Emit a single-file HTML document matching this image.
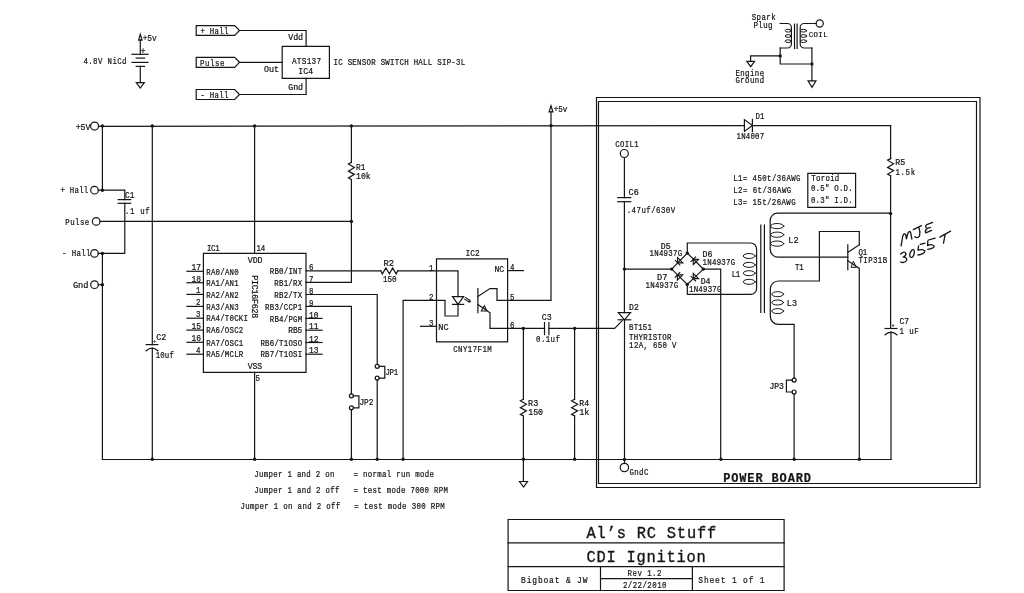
<!DOCTYPE html>
<html><head><meta charset="utf-8"><style>
html,body{margin:0;padding:0;background:#fff;}
svg{display:block;will-change:transform;}
text{font-family:"Liberation Mono",monospace;fill:#151515;stroke:#151515;stroke-width:0.22px;}
</style></head><body>
<svg width="1024" height="593" viewBox="0 0 1024 593">
<rect width="1024" height="593" fill="#fff"/>
<g fill="none" stroke="#151515" stroke-linecap="square" stroke-linejoin="miter">
<path d="M140.3 40.2 L140.3 54.3" stroke-width="1.2"/>
<path d="M138.6 40.2 L142 40.2 L140.3 34.3Z" stroke-width="1.2"/>
<text transform="translate(143.3 40.67) scale(0.93 1)" x="-0.67" font-size="8.4" letter-spacing="0">+5v</text>
<text transform="translate(141.2 53.67) scale(1 1)" x="-0.67" font-size="8.4" letter-spacing="0">+</text>
<path d="M132 54.3 L148 54.3" stroke-width="1.2"/>
<path d="M136.2 58.1 L144.5 58.1" stroke-width="1.2"/>
<path d="M132 62.4 L148 62.4" stroke-width="1.2"/>
<path d="M136.2 66.4 L144.5 66.4" stroke-width="1.2"/>
<path d="M140.3 66.4 L140.3 82.7" stroke-width="1.2"/>
<path d="M136.3 82.7 L144.3 82.7 L140.3 88Z" stroke-width="1.2"/>
<text transform="translate(84 64.27) scale(0.88 1)" x="-0.67" font-size="8.4" letter-spacing="0.46">4.8V NiCd</text>
<path d="M196.2 25.6 L234.7 25.6 L239.5 30.5 L234.7 35.4 L196.2 35.4Z" stroke-width="1.2"/>
<text transform="translate(201 33.77) scale(0.88 1)" x="-0.67" font-size="8.4" letter-spacing="0.31">+ Hall</text>
<path d="M196.2 57.3 L234.7 57.3 L239.5 62.3 L234.7 67.3 L196.2 67.3Z" stroke-width="1.2"/>
<text transform="translate(200.5 65.57) scale(0.88 1)" x="-0.67" font-size="8.4" letter-spacing="0.65">Pulse</text>
<path d="M196.2 89.5 L234.7 89.5 L239.5 94.5 L234.7 99.5 L196.2 99.5Z" stroke-width="1.2"/>
<text transform="translate(201 97.77) scale(0.88 1)" x="-0.67" font-size="8.4" letter-spacing="0.31">- Hall</text>
<path d="M239.5 30.5 L306.1 30.5 L306.1 46.4" stroke-width="1.2"/>
<path d="M239.5 62.3 L282.2 62.3" stroke-width="1.2"/>
<path d="M239.5 94.5 L306.1 94.5 L306.1 78.3" stroke-width="1.2"/>
<path d="M282.2 46.4 L329.4 46.4 L329.4 78.3 L282.2 78.3Z" stroke-width="1.2"/>
<text transform="translate(288.8 39.87) scale(0.99 1)" x="-0.67" font-size="8.4" letter-spacing="0">Vdd</text>
<text transform="translate(264.7 72.07) scale(0.99 1)" x="-0.67" font-size="8.4" letter-spacing="0">Out</text>
<text transform="translate(288.8 89.67) scale(0.99 1)" x="-0.67" font-size="8.4" letter-spacing="0">Gnd</text>
<text transform="translate(292.5 63.9) scale(0.88 1)" x="-0.7" font-size="8.8" letter-spacing="0.32">ATS137</text>
<text transform="translate(299 73.7) scale(0.93 1)" x="-0.7" font-size="8.8" letter-spacing="0">IC4</text>
<text transform="translate(334.1 65.47) scale(0.88 1)" x="-0.67" font-size="8.4" letter-spacing="0.32">IC SENSOR SWITCH HALL SIP-3L</text>
<text transform="translate(752.3 19.77) scale(0.88 1)" x="-0.67" font-size="8.4" letter-spacing="0.48">Spark</text>
<text transform="translate(754 27.67) scale(0.88 1)" x="-0.67" font-size="8.4" letter-spacing="0.5">Plug</text>
<path d="M780.2 23.5 L787.4 23.5 A4 4 0 0 1 791.4 27.5 L791.4 44 A4 4 0 0 1 787.4 48 L780.2 48" stroke-width="1.2"/>
<ellipse cx="788.2" cy="30.7" rx="3" ry="1.4" stroke-width="1"/>
<ellipse cx="788.2" cy="36" rx="3" ry="1.4" stroke-width="1"/>
<ellipse cx="788.2" cy="41.2" rx="3" ry="1.4" stroke-width="1"/>
<path d="M794.5 24.2 L794.5 48.5" stroke-width="1.2"/>
<path d="M797.1 24.2 L797.1 48.5" stroke-width="1.2"/>
<path d="M816.1 23.5 L804.2 23.5 A4 4 0 0 0 800.2 27.5 L800.2 44 A4 4 0 0 0 804.2 48 L811.9 48" stroke-width="1.2"/>
<ellipse cx="803.6" cy="30.7" rx="3" ry="1.4" stroke-width="1"/>
<ellipse cx="803.6" cy="36" rx="3" ry="1.4" stroke-width="1"/>
<ellipse cx="803.6" cy="41.2" rx="3" ry="1.4" stroke-width="1"/>
<circle cx="819.7" cy="23.5" r="3.6" stroke-width="1.2"/>
<text transform="translate(809.3 37.14) scale(1 1)" x="-0.59" font-size="7.4" letter-spacing="0.37">COIL</text>
<path d="M780.2 48 L780.2 64 L811.9 64" stroke-width="1.2"/>
<path d="M811.9 48 L811.9 80.8" stroke-width="1.2"/>
<circle cx="780.2" cy="55.9" r="1.7" fill="#151515" stroke="none"/>
<circle cx="811.9" cy="64" r="1.7" fill="#151515" stroke="none"/>
<path d="M780.2 55.9 L750.6 55.9 L750.6 61.3" stroke-width="1.2"/>
<path d="M746.8 61.3 L754.6 61.3 L750.7 66.7Z" stroke-width="1.2"/>
<path d="M808 80.8 L816 80.8 L812 87.4Z" stroke-width="1.2"/>
<text transform="translate(736 75.87) scale(0.88 1)" x="-0.67" font-size="8.4" letter-spacing="0.47">Engine</text>
<text transform="translate(736 83.27) scale(0.88 1)" x="-0.67" font-size="8.4" letter-spacing="0.47">Ground</text>
<circle cx="94.6" cy="126.1" r="4" stroke-width="1.2"/>
<text transform="translate(76.3 129.67) scale(0.98 1)" x="-0.67" font-size="8.4" letter-spacing="0">+5V</text>
<path d="M98.6 126.3 L744.4 125.7" stroke-width="1.2"/>
<path d="M752.4 125.6 L890.6 125.6" stroke-width="1.2"/>
<circle cx="102.4" cy="125.9" r="1.7" fill="#151515" stroke="none"/>
<circle cx="152.3" cy="125.9" r="1.7" fill="#151515" stroke="none"/>
<circle cx="254.6" cy="125.9" r="1.7" fill="#151515" stroke="none"/>
<circle cx="351.3" cy="125.9" r="1.7" fill="#151515" stroke="none"/>
<circle cx="551" cy="125.6" r="1.7" fill="#151515" stroke="none"/>
<path d="M102.4 125.9 L102.4 190.2" stroke-width="1.2"/>
<circle cx="94.5" cy="190.2" r="3.8" stroke-width="1.2"/>
<text transform="translate(61.1 193.27) scale(0.88 1)" x="-0.67" font-size="8.4" letter-spacing="0.26">+ Hall</text>
<circle cx="102.4" cy="190.2" r="1.7" fill="#151515" stroke="none"/>
<path d="M98.3 190.2 L124.8 190.2 L124.8 199.6" stroke-width="1.2"/>
<path d="M118.2 199.6 L130.7 199.6" stroke-width="1.2"/>
<path d="M118.2 203.3 L130.7 203.3" stroke-width="1.2"/>
<path d="M124.8 203.3 L124.8 253.4 L98.3 253.4" stroke-width="1.2"/>
<text transform="translate(125.6 197.67) scale(0.93 1)" x="-0.67" font-size="8.4" letter-spacing="-0">C1</text>
<text transform="translate(125.6 213.67) scale(0.88 1)" x="-0.67" font-size="8.4" letter-spacing="0.71">.1 uf</text>
<circle cx="96.2" cy="221.4" r="3.8" stroke-width="1.2"/>
<text transform="translate(65.9 224.67) scale(0.88 1)" x="-0.67" font-size="8.4" letter-spacing="0.48">Pulse</text>
<path d="M100 221.4 L351.4 221.4" stroke-width="1.2"/>
<circle cx="351.4" cy="221.4" r="1.7" fill="#151515" stroke="none"/>
<circle cx="94.5" cy="253.4" r="3.8" stroke-width="1.2"/>
<text transform="translate(62.7 256.47) scale(0.88 1)" x="-0.67" font-size="8.4" letter-spacing="0.4">- Hall</text>
<circle cx="102.4" cy="253.4" r="1.7" fill="#151515" stroke="none"/>
<path d="M102.4 253.4 L102.4 459.3" stroke-width="1.2"/>
<circle cx="94.5" cy="284.7" r="3.8" stroke-width="1.2"/>
<text transform="translate(73.6 287.77) scale(1.03 1)" x="-0.67" font-size="8.4" letter-spacing="-0">Gnd</text>
<circle cx="102.4" cy="284.7" r="1.7" fill="#151515" stroke="none"/>
<path d="M98.3 284.7 L102.4 284.7" stroke-width="1.2"/>
<path d="M102.4 459.5 L891 459.5" stroke-width="1.2"/>
<path d="M152.3 125.9 L152.3 344.6" stroke-width="1.2"/>
<path d="M146.2 344.6 L157.8 344.6" stroke-width="1.2"/>
<path d="M146.2 350.8 Q152.2 345.6 157.8 350.8" stroke-width="1.2"/>
<path d="M152.3 348.2 L152.3 459.3" stroke-width="1.2"/>
<circle cx="152.3" cy="459.3" r="1.7" fill="#151515" stroke="none"/>
<text transform="translate(153.5 343.25) scale(0.88 1)" x="-0.4" font-size="5" letter-spacing="0">+</text>
<text transform="translate(157 340.27) scale(1 1)" x="-0.67" font-size="8.4" letter-spacing="-0">C2</text>
<text transform="translate(156.3 358.07) scale(0.88 1)" x="-0.67" font-size="8.4" letter-spacing="0.16">10uf</text>
<path d="M203.4 253.3 L306 253.3 L306 372.3 L203.4 372.3Z" stroke-width="1.2"/>
<path d="M254.6 125.9 L254.6 253.3" stroke-width="1.2"/>
<path d="M254.6 372.3 L254.6 459.3" stroke-width="1.2"/>
<circle cx="254.6" cy="459.3" r="1.7" fill="#151515" stroke="none"/>
<text transform="translate(207.6 250.67) scale(0.88 1)" x="-0.67" font-size="8.4" letter-spacing="-0.42">IC1</text>
<text transform="translate(257.1 250.67) scale(0.88 1)" x="-0.67" font-size="8.4" letter-spacing="-0.35">14</text>
<text transform="translate(248.3 262.77) scale(0.99 1)" x="-0.67" font-size="8.4" letter-spacing="0">VDD</text>
<text transform="translate(248.3 369.47) scale(0.96 1)" x="-0.67" font-size="8.4" letter-spacing="0">VSS</text>
<text transform="translate(256.1 381.27) scale(0.88 1)" x="-0.67" font-size="8.4" letter-spacing="0">5</text>
<path d="M187 271.3 L203.4 271.3" stroke-width="1.2"/>
<text transform="translate(192 270.37) scale(0.95 1)" x="-0.67" font-size="8.4" letter-spacing="-0">17</text>
<text transform="translate(206.8 274.57) scale(0.88 1)" x="-0.67" font-size="8.4" letter-spacing="0.27">RA0/AN0</text>
<path d="M187 282.7 L203.4 282.7" stroke-width="1.2"/>
<text transform="translate(192 281.77) scale(0.95 1)" x="-0.67" font-size="8.4" letter-spacing="-0">18</text>
<text transform="translate(206.8 285.97) scale(0.88 1)" x="-0.67" font-size="8.4" letter-spacing="0.27">RA1/AN1</text>
<path d="M187 294.4 L203.4 294.4" stroke-width="1.2"/>
<text transform="translate(196.7 293.47) scale(0.88 1)" x="-0.67" font-size="8.4" letter-spacing="0">1</text>
<text transform="translate(206.8 297.67) scale(0.88 1)" x="-0.67" font-size="8.4" letter-spacing="0.27">RA2/AN2</text>
<path d="M187 306.4 L203.4 306.4" stroke-width="1.2"/>
<text transform="translate(196.7 305.47) scale(0.88 1)" x="-0.67" font-size="8.4" letter-spacing="0">2</text>
<text transform="translate(206.8 309.67) scale(0.88 1)" x="-0.67" font-size="8.4" letter-spacing="0.27">RA3/AN3</text>
<path d="M187 318.2 L203.4 318.2" stroke-width="1.2"/>
<text transform="translate(196.7 317.27) scale(0.88 1)" x="-0.67" font-size="8.4" letter-spacing="0">3</text>
<text transform="translate(206.8 321.47) scale(0.88 1)" x="-0.67" font-size="8.4" letter-spacing="0.26">RA4/T0CKI</text>
<path d="M187 330.1 L203.4 330.1" stroke-width="1.2"/>
<text transform="translate(192 329.17) scale(0.95 1)" x="-0.67" font-size="8.4" letter-spacing="-0">15</text>
<text transform="translate(206.8 333.37) scale(0.88 1)" x="-0.67" font-size="8.4" letter-spacing="0.26">RA6/OSC2</text>
<path d="M187 342.3 L203.4 342.3" stroke-width="1.2"/>
<text transform="translate(192 341.37) scale(0.95 1)" x="-0.67" font-size="8.4" letter-spacing="-0">16</text>
<text transform="translate(206.8 345.57) scale(0.88 1)" x="-0.67" font-size="8.4" letter-spacing="0.26">RA7/OSC1</text>
<path d="M187 354.2 L203.4 354.2" stroke-width="1.2"/>
<text transform="translate(196.7 353.27) scale(0.88 1)" x="-0.67" font-size="8.4" letter-spacing="0">4</text>
<text transform="translate(206.8 357.47) scale(0.88 1)" x="-0.67" font-size="8.4" letter-spacing="0.26">RA5/MCLR</text>
<text transform="translate(309.6 270.17) scale(0.88 1)" x="-0.67" font-size="8.4" letter-spacing="0">6</text>
<text transform="translate(270.29 274.17) scale(0.88 1)" x="-0.67" font-size="8.4" letter-spacing="0.27">RB0/INT</text>
<text transform="translate(309.6 281.67) scale(0.88 1)" x="-0.67" font-size="8.4" letter-spacing="0">7</text>
<text transform="translate(274.92 285.67) scale(0.88 1)" x="-0.67" font-size="8.4" letter-spacing="0.28">RB1/RX</text>
<text transform="translate(309.6 293.77) scale(0.88 1)" x="-0.67" font-size="8.4" letter-spacing="0">8</text>
<text transform="translate(274.92 297.77) scale(0.88 1)" x="-0.67" font-size="8.4" letter-spacing="0.28">RB2/TX</text>
<text transform="translate(309.6 305.67) scale(0.88 1)" x="-0.67" font-size="8.4" letter-spacing="0">9</text>
<text transform="translate(265.66 309.67) scale(0.88 1)" x="-0.67" font-size="8.4" letter-spacing="0.26">RB3/CCP1</text>
<path d="M306 318.4 L322 318.4" stroke-width="1.2"/>
<text transform="translate(309.6 317.67) scale(0.95 1)" x="-0.67" font-size="8.4" letter-spacing="-0">10</text>
<text transform="translate(270.29 321.67) scale(0.88 1)" x="-0.67" font-size="8.4" letter-spacing="0.27">RB4/PGM</text>
<path d="M306 330.2 L322 330.2" stroke-width="1.2"/>
<text transform="translate(309.6 329.47) scale(0.95 1)" x="-0.67" font-size="8.4" letter-spacing="-0">11</text>
<text transform="translate(288.81 333.47) scale(0.93 1)" x="-0.67" font-size="8.4" letter-spacing="0">RB5</text>
<path d="M306 342.5 L322 342.5" stroke-width="1.2"/>
<text transform="translate(309.6 341.77) scale(0.95 1)" x="-0.67" font-size="8.4" letter-spacing="-0">12</text>
<text transform="translate(261.03 345.77) scale(0.88 1)" x="-0.67" font-size="8.4" letter-spacing="0.26">RB6/T1OSO</text>
<path d="M306 354.2 L322 354.2" stroke-width="1.2"/>
<text transform="translate(309.6 353.47) scale(0.95 1)" x="-0.67" font-size="8.4" letter-spacing="-0">13</text>
<text transform="translate(261.03 357.47) scale(0.88 1)" x="-0.67" font-size="8.4" letter-spacing="0.26">RB7/T1OSI</text>
<text x="0" y="0" font-size="8.3" letter-spacing="-0.22" transform="translate(251.9 275.3) rotate(90)">PIC16F628</text>
<path d="M351.4 125.9 L351.4 162.4" stroke-width="1.2"/>
<path d="M351.4 162.4 L348.4 163.94 L354.4 167.53 L348.4 171.12 L354.4 174.37 L348.4 177.96 L351.4 179.5" stroke-width="1.2"/>
<path d="M351.4 179.5 L351.4 282.4 L306 282.4" stroke-width="1.2"/>
<text transform="translate(356.7 169.57) scale(0.92 1)" x="-0.67" font-size="8.4" letter-spacing="-0">R1</text>
<text transform="translate(356.7 179.27) scale(0.96 1)" x="-0.67" font-size="8.4" letter-spacing="0">10k</text>
<path d="M306 270.9 L380.8 270.9" stroke-width="1.2"/>
<path d="M380.8 270.9 L382.32 273.9 L385.87 267.9 L389.42 273.9 L392.63 267.9 L396.18 273.9 L397.7 270.9" stroke-width="1.2"/>
<path d="M397.7 270.9 L458 270.9 L458 296.6" stroke-width="1.2"/>
<text transform="translate(384.2 266.17) scale(1.05 1)" x="-0.67" font-size="8.4" letter-spacing="-0">R2</text>
<text transform="translate(383.5 282.07) scale(0.91 1)" x="-0.67" font-size="8.4" letter-spacing="0">150</text>
<path d="M306 294.5 L377.2 294.5 L377.2 364.3" stroke-width="1.2"/>
<circle cx="377.2" cy="366.3" r="2" stroke-width="1.2"/>
<circle cx="377.2" cy="378.1" r="2" stroke-width="1.2"/>
<path d="M377.2 380.1 L377.2 459.3" stroke-width="1.2"/>
<circle cx="377.2" cy="459.3" r="1.7" fill="#151515" stroke="none"/>
<path d="M379.2 366.3 L384.8 366.3 L384.8 378.1 L379.2 378.1" stroke-width="1.2"/>
<text transform="translate(386 374.87) scale(0.88 1)" x="-0.67" font-size="8.4" letter-spacing="-0.31">JP1</text>
<path d="M306 306.4 L351.4 306.4 L351.4 393.8" stroke-width="1.2"/>
<circle cx="351.4" cy="395.8" r="2" stroke-width="1.2"/>
<circle cx="351.4" cy="407.8" r="2" stroke-width="1.2"/>
<path d="M351.4 409.8 L351.4 459.3" stroke-width="1.2"/>
<circle cx="351.4" cy="459.3" r="1.7" fill="#151515" stroke="none"/>
<path d="M353.4 395.8 L358.9 395.8 L358.9 407.8 L353.4 407.8" stroke-width="1.2"/>
<text transform="translate(360 404.97) scale(0.93 1)" x="-0.67" font-size="8.4" letter-spacing="0">JP2</text>
<path d="M436.5 258.9 L507.6 258.9 L507.6 341.8 L436.5 341.8Z" stroke-width="1.2"/>
<text transform="translate(466.2 256.37) scale(0.93 1)" x="-0.67" font-size="8.4" letter-spacing="0">IC2</text>
<text transform="translate(453.8 351.97) scale(0.88 1)" x="-0.67" font-size="8.4" letter-spacing="0.5">CNY17F1M</text>
<text transform="translate(429.5 270.57) scale(0.88 1)" x="-0.67" font-size="8.4" letter-spacing="0">1</text>
<text transform="translate(429.5 300.27) scale(0.88 1)" x="-0.67" font-size="8.4" letter-spacing="0">2</text>
<text transform="translate(429.5 325.87) scale(0.88 1)" x="-0.67" font-size="8.4" letter-spacing="0">3</text>
<path d="M403.1 459.3 L403.1 300.4 L445 300.4 L445 316 L458 316 L458 304.4" stroke-width="1.2"/>
<circle cx="403.1" cy="459.3" r="1.7" fill="#151515" stroke="none"/>
<path d="M452.5 296.6 L463.6 296.6 L458 304.4Z" stroke-width="1.2"/>
<path d="M452.5 304.4 L463.6 304.4" stroke-width="1.2"/>
<path d="M464.6 299.2 L468.6 301.8" stroke-width="1.1"/>
<path d="M465.6 297.6 L469.6 300.2" stroke-width="1.1"/>
<circle cx="469.6" cy="301.4" r="1.2" fill="#151515" stroke="none"/>
<path d="M420.6 326.3 L436.5 326.3" stroke-width="1.2"/>
<text transform="translate(438.9 329.67) scale(1.03 1)" x="-0.67" font-size="8.4" letter-spacing="-0">NC</text>
<path d="M477.9 288.6 L477.9 312.7" stroke-width="1.2"/>
<path d="M477.9 296.5 L490 288.6 L497 288.6 L497 300.3 L551 300.3 L551 111.8" stroke-width="1.2"/>
<path d="M477.9 304.5 L490 312.7 L490 328.4 L544.5 328.4" stroke-width="1.2"/>
<path d="M481.3 311 L486.8 311 L484.4 305.6Z" stroke-width="1.1"/>
<path d="M507.6 270.6 L523.3 270.6" stroke-width="1.2"/>
<text transform="translate(495.1 272.07) scale(0.97 1)" x="-0.67" font-size="8.4" letter-spacing="-0">NC</text>
<text transform="translate(510.5 270.37) scale(0.88 1)" x="-0.67" font-size="8.4" letter-spacing="0">4</text>
<text transform="translate(510.5 300.27) scale(0.88 1)" x="-0.67" font-size="8.4" letter-spacing="0">5</text>
<text transform="translate(510.5 328.17) scale(0.88 1)" x="-0.67" font-size="8.4" letter-spacing="0">6</text>
<path d="M549.1 111.8 L552.9 111.8 L551 105.7Z" stroke-width="1.2"/>
<text transform="translate(554.3 111.57) scale(0.91 1)" x="-0.67" font-size="8.4" letter-spacing="0">+5v</text>
<path d="M544.5 322.5 L544.5 334.6" stroke-width="1.2"/>
<path d="M548.9 322.5 L548.9 334.6" stroke-width="1.2"/>
<path d="M548.9 328.4 L614.6 328.4 L622.1 320.8" stroke-width="1.2"/>
<circle cx="523.3" cy="328.4" r="1.7" fill="#151515" stroke="none"/>
<circle cx="574.7" cy="328.4" r="1.7" fill="#151515" stroke="none"/>
<text transform="translate(542.5 320.27) scale(0.98 1)" x="-0.67" font-size="8.4" letter-spacing="-0">C3</text>
<text transform="translate(536.7 342.27) scale(0.88 1)" x="-0.67" font-size="8.4" letter-spacing="0.45">0.1uf</text>
<path d="M523.4 328.4 L523.4 399.2" stroke-width="1.2"/>
<path d="M523.4 399.2 L520.4 400.7 L526.4 404.21 L520.4 407.72 L526.4 410.89 L520.4 414.4 L523.4 415.9" stroke-width="1.2"/>
<path d="M523.4 415.9 L523.4 481.5" stroke-width="1.2"/>
<path d="M519.45 481.5 L527.55 481.5 L523.5 487.1Z" stroke-width="1.2"/>
<circle cx="523.4" cy="459.3" r="1.7" fill="#151515" stroke="none"/>
<path d="M574.6 328.4 L574.6 399.2" stroke-width="1.2"/>
<path d="M574.6 399.2 L571.6 400.7 L577.6 404.21 L571.6 407.72 L577.6 410.89 L571.6 414.4 L574.6 415.9" stroke-width="1.2"/>
<path d="M574.6 415.9 L574.6 459.3" stroke-width="1.2"/>
<circle cx="574.6" cy="459.3" r="1.7" fill="#151515" stroke="none"/>
<text transform="translate(528.8 405.87) scale(1.01 1)" x="-0.67" font-size="8.4" letter-spacing="-0">R3</text>
<text transform="translate(528.8 415.47) scale(0.99 1)" x="-0.67" font-size="8.4" letter-spacing="0">150</text>
<text transform="translate(579.9 405.87) scale(0.97 1)" x="-0.67" font-size="8.4" letter-spacing="-0">R4</text>
<text transform="translate(579.9 415.47) scale(1.01 1)" x="-0.67" font-size="8.4" letter-spacing="-0">1k</text>
<path d="M596.5 97.5 L980 97.5 L980 487.5 L596.5 487.5Z" stroke-width="1.2"/>
<path d="M598.5 101.5 L976.5 101.5 L976.5 483.5 L598.5 483.5Z" stroke-width="1.2"/>
<text transform="translate(724.1 482.13) scale(0.88 1)" x="-1.09" font-size="13.6" letter-spacing="1.01" font-weight="bold">POWER BOARD</text>
<path d="M744.4 119.6 L744.4 131.4 L752.4 125.6Z" stroke-width="1.2"/>
<path d="M752.4 119.4 L752.4 131.6" stroke-width="1.2"/>
<text transform="translate(756.2 119.37) scale(0.88 1)" x="-0.67" font-size="8.4" letter-spacing="-0.12">D1</text>
<text transform="translate(737.1 138.87) scale(0.88 1)" x="-0.67" font-size="8.4" letter-spacing="0.24">1N4007</text>
<path d="M890.6 125.5 L890.6 158.6" stroke-width="1.2"/>
<path d="M890.6 158.6 L887.6 160.15 L893.6 163.76 L887.6 167.37 L893.6 170.64 L887.6 174.25 L890.6 175.8" stroke-width="1.2"/>
<path d="M890.6 175.8 L890.6 328.5" stroke-width="1.2"/>
<text transform="translate(896 165.27) scale(1 1)" x="-0.67" font-size="8.4" letter-spacing="-0">R5</text>
<text transform="translate(896 175.37) scale(0.88 1)" x="-0.67" font-size="8.4" letter-spacing="0.73">1.5k</text>
<circle cx="890.6" cy="213.6" r="1.7" fill="#151515" stroke="none"/>
<path d="M885.1 328.5 L896.9 328.5" stroke-width="1.2"/>
<path d="M885.1 334.8 Q891 329.4 896.9 334.8" stroke-width="1.2"/>
<path d="M891 332 L891 459.3" stroke-width="1.2"/>
<text transform="translate(892 326.95) scale(0.88 1)" x="-0.4" font-size="5" letter-spacing="0">+</text>
<text transform="translate(900 324.07) scale(0.95 1)" x="-0.67" font-size="8.4" letter-spacing="-0">C7</text>
<text transform="translate(900 334.27) scale(0.88 1)" x="-0.67" font-size="8.4" letter-spacing="0.54">1 uF</text>
<text transform="translate(615.8 146.87) scale(0.88 1)" x="-0.67" font-size="8.4" letter-spacing="0.39">COIL1</text>
<circle cx="624.3" cy="153.5" r="4" stroke-width="1.2"/>
<path d="M624.4 157.5 L624.4 197.6" stroke-width="1.2"/>
<path d="M617.8 197.6 L630.7 197.6" stroke-width="1.2"/>
<path d="M617.8 201.7 L630.7 201.7" stroke-width="1.2"/>
<path d="M624.4 201.7 L624.4 312.7" stroke-width="1.2"/>
<text transform="translate(629.3 195.07) scale(1.01 1)" x="-0.67" font-size="8.4" letter-spacing="-0">C6</text>
<text transform="translate(627.3 212.87) scale(0.88 1)" x="-0.67" font-size="8.4" letter-spacing="0.52">.47uf/630V</text>
<circle cx="624.4" cy="269.1" r="1.7" fill="#151515" stroke="none"/>
<path d="M624.4 269.1 L671.7 269.1" stroke-width="1.2"/>
<path d="M618.3 312.7 L630.5 312.7 L624.5 319.8Z" stroke-width="1.2"/>
<path d="M618.1 319.8 L630.7 319.8" stroke-width="1.2"/>
<path d="M624.5 319.8 L624.5 463.3" stroke-width="1.2"/>
<text transform="translate(629.7 310.17) scale(0.96 1)" x="-0.67" font-size="8.4" letter-spacing="-0">D2</text>
<text transform="translate(629.7 330.27) scale(0.88 1)" x="-0.67" font-size="8.4" letter-spacing="0.17">BT151</text>
<text transform="translate(629.7 340.07) scale(0.88 1)" x="-0.67" font-size="8.4" letter-spacing="0.36">THYRISTOR</text>
<text transform="translate(629.7 348.07) scale(0.88 1)" x="-0.67" font-size="8.4" letter-spacing="0.39">12A, 650 V</text>
<circle cx="624.4" cy="459.4" r="1.7" fill="#151515" stroke="none"/>
<circle cx="624.4" cy="467.5" r="4.2" stroke-width="1.2"/>
<text transform="translate(630 475.07) scale(0.88 1)" x="-0.67" font-size="8.4" letter-spacing="0.46">GndC</text>
<path d="M671.7 269.1 L687.3 253.1 L703.3 269.1 L687.3 284.5Z" stroke-width="1.2"/>
<circle cx="671.7" cy="269.1" r="1.7" fill="#151515" stroke="none"/>
<circle cx="687.3" cy="253.1" r="1.7" fill="#151515" stroke="none"/>
<circle cx="703.3" cy="269.1" r="1.7" fill="#151515" stroke="none"/>
<circle cx="687.3" cy="284.5" r="1.7" fill="#151515" stroke="none"/>
<path d="M677.6 262.8 L682.8 262.8 L677.6 257.6Z" stroke-width="1.15"/>
<path d="M675.34 260.54 L679.86 265.06" stroke-width="1.15"/>
<path d="M693.3 259.3 L698.5 259.3 L693.3 264.5Z" stroke-width="1.15"/>
<path d="M691.04 261.56 L695.56 257.04" stroke-width="1.15"/>
<path d="M677.4 274.9 L682.6 274.9 L677.4 280.1Z" stroke-width="1.15"/>
<path d="M675.14 277.16 L679.66 272.64" stroke-width="1.15"/>
<path d="M693.3 278.6 L698.5 278.6 L693.3 273.4Z" stroke-width="1.15"/>
<path d="M691.04 276.34 L695.56 280.86" stroke-width="1.15"/>
<text transform="translate(661.5 248.87) scale(0.98 1)" x="-0.67" font-size="8.4" letter-spacing="-0">D5</text>
<text transform="translate(650.1 256.47) scale(0.88 1)" x="-0.67" font-size="8.4" letter-spacing="0.29">1N4937G</text>
<text transform="translate(703.2 256.67) scale(0.98 1)" x="-0.67" font-size="8.4" letter-spacing="-0">D6</text>
<text transform="translate(703.2 264.67) scale(0.88 1)" x="-0.67" font-size="8.4" letter-spacing="0.29">1N4937G</text>
<text transform="translate(657.7 279.87) scale(1.03 1)" x="-0.67" font-size="8.4" letter-spacing="-0">D7</text>
<text transform="translate(646 288.37) scale(0.88 1)" x="-0.67" font-size="8.4" letter-spacing="0.34">1N4937G</text>
<text transform="translate(701.3 284.27) scale(0.97 1)" x="-0.67" font-size="8.4" letter-spacing="-0">D4</text>
<text transform="translate(689.6 291.87) scale(0.88 1)" x="-0.67" font-size="8.4" letter-spacing="0.25">1N4937G</text>
<path d="M703.3 269.1 L720.7 269.1 L720.7 459.3" stroke-width="1.2"/>
<circle cx="720.9" cy="459.3" r="1.7" fill="#151515" stroke="none"/>
<path d="M687.3 253.1 L687.3 243 L750.6 243 A6 6 0 0 1 756.6 249 L756.6 288.4 A6 6 0 0 1 750.6 294.4 L687.3 294.4 L687.3 284.5" stroke-width="1.2"/>
<ellipse cx="749.2" cy="256" rx="5.9" ry="2.5" stroke-width="1"/>
<ellipse cx="749.2" cy="264.9" rx="5.9" ry="2.5" stroke-width="1"/>
<ellipse cx="749.2" cy="273.2" rx="5.9" ry="2.5" stroke-width="1"/>
<ellipse cx="749.2" cy="281.8" rx="5.9" ry="2.5" stroke-width="1"/>
<text transform="translate(732.3 276.67) scale(0.88 1)" x="-0.67" font-size="8.4" letter-spacing="-0.35">L1</text>
<text transform="translate(733.8 180.87) scale(0.88 1)" x="-0.67" font-size="8.4" letter-spacing="0.46">L1= 450t/36AWG</text>
<text transform="translate(733.8 193.17) scale(0.88 1)" x="-0.67" font-size="8.4" letter-spacing="0.5">L2= 6t/36AWG</text>
<text transform="translate(733.8 204.97) scale(0.88 1)" x="-0.67" font-size="8.4" letter-spacing="0.45">L3= 15t/26AWG</text>
<path d="M807.8 173.4 L855.6 173.4 L855.6 207.3 L807.8 207.3Z" stroke-width="1.2"/>
<text transform="translate(811.9 181.27) scale(0.88 1)" x="-0.67" font-size="8.4" letter-spacing="0.31">Toroid</text>
<text transform="translate(811.5 191.07) scale(0.88 1)" x="-0.67" font-size="8.4" letter-spacing="0.26">0.5" O.D.</text>
<text transform="translate(811.5 202.97) scale(0.88 1)" x="-0.67" font-size="8.4" letter-spacing="0.26">0.3" I.D.</text>
<path d="M760.8 225.2 L760.8 312.5" stroke-width="1.2"/>
<path d="M764.4 225.2 L764.4 312.5" stroke-width="1.2"/>
<path d="M890.6 213.2 L777.4 213.2 A7.2 7.2 0 0 0 770.2 220.4 L770.2 249.2 A8 8 0 0 0 778.2 257.2 L847.8 257.2" stroke-width="1.2"/>
<ellipse cx="777.2" cy="226.1" rx="6.6" ry="2.6" stroke-width="1"/>
<ellipse cx="777.2" cy="234.7" rx="6.6" ry="2.6" stroke-width="1"/>
<ellipse cx="777.2" cy="243.6" rx="6.6" ry="2.6" stroke-width="1"/>
<text transform="translate(789 242.67) scale(1.02 1)" x="-0.67" font-size="8.4" letter-spacing="-0">L2</text>
<text transform="translate(795.7 270.47) scale(0.88 1)" x="-0.67" font-size="8.4" letter-spacing="-0.35">T1</text>
<path d="M859.3 244.8 L859.3 231.5 L819.4 231.5 L819.4 281 L778.3 281 A8 8 0 0 0 770.3 289 L770.3 316.3 A8 8 0 0 0 778.3 324.3 L794.1 324.3 L794.1 378.1" stroke-width="1.2"/>
<path d="M859.3 244.8 L847.8 252.5" stroke-width="1.2"/>
<ellipse cx="777.7" cy="294.2" rx="5.9" ry="2.5" stroke-width="1"/>
<ellipse cx="777.7" cy="302.5" rx="5.9" ry="2.5" stroke-width="1"/>
<ellipse cx="777.7" cy="311.1" rx="5.9" ry="2.5" stroke-width="1"/>
<text transform="translate(787.5 306.47) scale(1.01 1)" x="-0.67" font-size="8.4" letter-spacing="-0">L3</text>
<circle cx="794.1" cy="380.1" r="2" stroke-width="1.2"/>
<circle cx="794.1" cy="392" r="2" stroke-width="1.2"/>
<path d="M792.1 380.1 L786.4 380.1 L786.4 392 L792.1 392" stroke-width="1.2"/>
<path d="M794.1 394 L794.1 459.3" stroke-width="1.2"/>
<circle cx="794.2" cy="459.3" r="1.7" fill="#151515" stroke="none"/>
<text transform="translate(770.1 389.07) scale(0.96 1)" x="-0.67" font-size="8.4" letter-spacing="0">JP3</text>
<path d="M847.8 244.8 L847.8 269.6" stroke-width="1.2"/>
<path d="M847.8 260.7 L859.3 268.4 L859.3 459.3" stroke-width="1.2"/>
<circle cx="859.4" cy="459.3" r="1.7" fill="#151515" stroke="none"/>
<path d="M851.5 267.3 L856.4 267.3 L853.6 261.8Z" stroke-width="1"/>
<text transform="translate(859 254.67) scale(0.88 1)" x="-0.67" font-size="8.4" letter-spacing="-0.24">Q1</text>
<text transform="translate(859 262.67) scale(0.88 1)" x="-0.67" font-size="8.4" letter-spacing="0.49">TIP31B</text>
<g stroke-linecap="round" stroke-linejoin="round">
<path d="M901.1 245.8 L902.8 236 Q904.2 232.6 905.6 234.5 L906.4 238.8 L907.9 233 Q909.4 230.3 910.6 232.5 L911.9 239" stroke-width="1.3"/>
<path d="M913.3 229.6 L921.4 225.6 M918.9 227.2 Q920.4 232 919.6 235.5 Q918.4 238.8 914.8 236.8" stroke-width="1.3"/>
<path d="M932.7 222.3 L926.8 224.6 Q924.2 227 927.2 228.4 L930.4 227.4 M927.2 228.4 Q924.4 230.8 925.8 232.9 L931.6 230.4" stroke-width="1.3"/>
<path d="M900.7 254 Q904.5 250.5 906 253.8 Q905.5 256.5 903.2 256.8 Q907.5 257.5 906.5 260.5 Q904.5 263.5 900.4 262" stroke-width="1.3"/>
<path d="M911.8 250.2 Q909.3 252.5 909.8 256 Q910.8 258.3 912.6 257 Q914.8 254.5 914.2 250.5 Q913.6 248.8 911.8 250.2" stroke-width="1.3"/>
<path d="M925 243.2 L920.3 244.4 M918.6 245.8 L917.9 250.2 Q922 248.6 925 250.9 Q924.5 254.2 918 255" stroke-width="1.3"/>
<path d="M935.1 238.1 L928.5 240 M927.8 241 L927.6 245.6 Q931.5 243.5 934.2 246.2 Q933.5 249 927.7 249.3" stroke-width="1.3"/>
<path d="M939.8 237.1 L950.6 231.1 M945.2 234.1 L943.5 243.2" stroke-width="1.3"/>
</g>
<text transform="translate(254.8 476.87) scale(0.88 1)" x="-0.67" font-size="8.4" letter-spacing="0.35">Jumper 1 and 2 on</text>
<text transform="translate(354.2 476.87) scale(0.88 1)" x="-0.67" font-size="8.4" letter-spacing="0.36">= normal run mode</text>
<text transform="translate(254.8 492.57) scale(0.88 1)" x="-0.67" font-size="8.4" letter-spacing="0.37">Jumper 1 and 2 off</text>
<text transform="translate(354.2 492.57) scale(0.88 1)" x="-0.67" font-size="8.4" letter-spacing="0.34">= test mode 7000 RPM</text>
<text transform="translate(241 509.07) scale(0.88 1)" x="-0.67" font-size="8.4" letter-spacing="0.38">Jumper 1 on and 2 off</text>
<text transform="translate(354.9 509.07) scale(0.88 1)" x="-0.67" font-size="8.4" letter-spacing="0.39">= test mode 300 RPM</text>
<path d="M508.1 519.5 L784.1 519.5 L784.1 590.5 L508.1 590.5Z" stroke-width="1.2"/>
<path d="M508.1 542.9 L784.1 542.9" stroke-width="1.2"/>
<path d="M508.1 566.7 L784.1 566.7" stroke-width="1.2"/>
<path d="M600.5 566.7 L600.5 590.5" stroke-width="1.2"/>
<path d="M692.4 566.7 L692.4 590.5" stroke-width="1.2"/>
<path d="M600.5 578.6 L692.4 578.6" stroke-width="1.2"/>
<text transform="translate(587.8 538.24) scale(0.95 1)" x="-1.3" font-size="16.2" letter-spacing="0.84" style="stroke-width:0.35px">Al’s RC Stuff</text>
<text transform="translate(587.8 561.94) scale(0.95 1)" x="-1.3" font-size="16.2" letter-spacing="0.81" style="stroke-width:0.35px">CDI Ignition</text>
<text transform="translate(521.7 582.97) scale(0.88 1)" x="-0.72" font-size="9" letter-spacing="0.97">Bigboat &amp; JW</text>
<text transform="translate(628.2 575.67) scale(0.88 1)" x="-0.67" font-size="8.4" letter-spacing="0.51">Rev 1.2</text>
<text transform="translate(623.5 587.97) scale(0.88 1)" x="-0.67" font-size="8.4" letter-spacing="0.52">2/22/2010</text>
<text transform="translate(699 582.97) scale(0.88 1)" x="-0.72" font-size="9" letter-spacing="0.95">Sheet 1 of 1</text>
</g>
</svg>
</body></html>
